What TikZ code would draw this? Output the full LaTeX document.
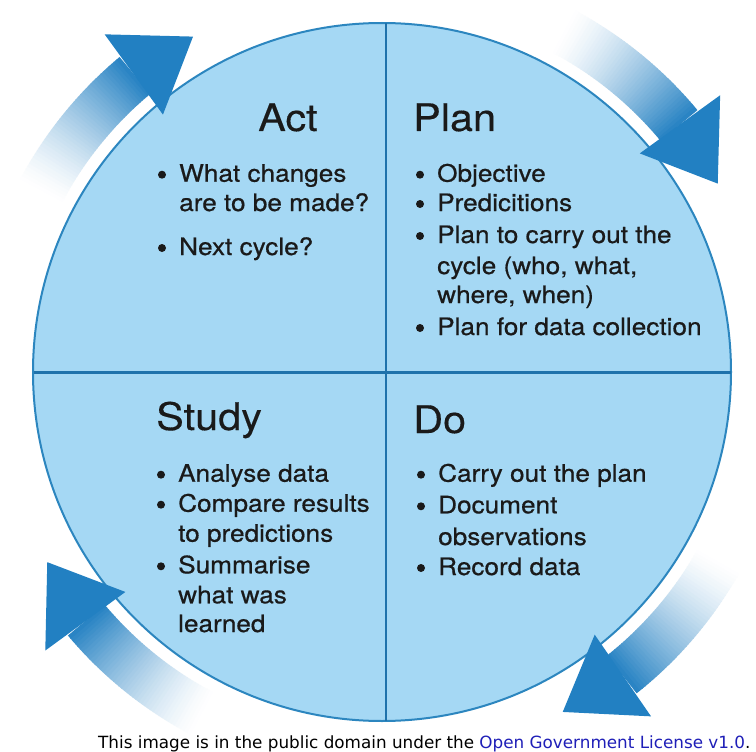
\documentclass[tikz,border=0pt]{standalone}
\usepackage{fontspec}
\setmainfont{TeX Gyre Heros}[FakeStretch=1.09]
\newfontfamily\ttlfont{TeX Gyre Heros}[FakeStretch=1.09, FakeBold=0.3]
\newfontfamily\itmfont{TeX Gyre Heros}[FakeStretch=1.09, FakeBold=0.6]
\newfontfamily\capfont{DejaVu Sans}
\definecolor{circfill}{HTML}{A5D8F4}
\definecolor{circline}{HTML}{2C86BF}
\definecolor{divline}{HTML}{1F72AB}
\definecolor{arrowblue}{HTML}{2A84C4}
\definecolor{headblue}{HTML}{2280C2}
\definecolor{txt}{HTML}{1A1A1A}
\definecolor{linkblue}{HTML}{1F1FB8}
\tikzset{
  ttl/.style={anchor=base west, inner sep=0pt, font=\ttlfont\fontsize{38}{40}\selectfont, text=txt},
  itm/.style={anchor=base west, inner sep=0pt, font=\itmfont\fontsize{24}{28}\selectfont, text=txt},
  bul/.style={circle, fill=txt, inner sep=0pt, minimum size=8pt, yshift=7pt},
  captxt/.style={anchor=base west, inner sep=0pt, font=\capfont\fontsize{16.8}{18}\selectfont, text=black},
}
\newcommand\cyclearrow[1]{%
  \begin{scope}[shift={(382,372)}]
    \foreach \i in {0,...,44} {
      \pgfmathsetmacro\aone{#1+33-\i*0.5}
      \pgfmathsetmacro\atwo{\aone-0.6}
      \pgfmathsetmacro\pct{min(100,(\i/44)^1.4*100)}
      \fill[arrowblue!\pct!white] (\aone:362pt) -- (\aone:410pt)
        arc[start angle=\aone, end angle=\atwo, radius=410pt]
        -- (\atwo:362pt) arc[start angle=\atwo, end angle=\aone, radius=362pt] -- cycle;
    }
    \fill[headblue] (#1+11:338pt) -- (#1:385pt) -- (#1+10:437pt) -- cycle;
  \end{scope}}
\begin{document}
\begin{tikzpicture}[x=1pt,y=-1pt]
  \useasboundingbox[fill=white] (0,0) rectangle (756,752);
  % circle and dividers
  \node[circle, draw=circline, fill=circfill, line width=2pt, minimum size=698pt, inner sep=0pt] (cyc) at (382,372) {};
  \coordinate (vtop) at (386,23.5);
  \coordinate (vbot) at (386,720.5);
  \coordinate (hlft) at (33.5,372.5);
  \coordinate (hrgt) at (730.5,372.5);
  \draw[divline, line width=2.3pt] (vtop) -- (vbot);
  \draw[divline, line width=2.3pt] (hlft) -- (hrgt);
  % arrows
  \cyclearrow{29.3}
  \cyclearrow{119.4}
  \cyclearrow{209.6}
  \cyclearrow{298}
  % Act
  \node[ttl] (act) at (258,131) {Act};
  \node[bul] (ab1) at (162,181.7) {};
  \node[itm] (a1) at (179,181.7) {What changes};
  \node[itm] (a2) at (179,211) {are to be made?};
  \node[bul] (ab2) at (162,255) {};
  \node[itm] (a3) at (179,255) {Next cycle?};
  % Plan
  \node[ttl] (plan) at (413,131) {Plan};
  \node[bul] (pb1) at (420,181.7) {};
  \node[itm] (p1) at (437,181.7) {Objective};
  \node[bul] (pb2) at (420,211) {};
  \node[itm] (p2) at (437,211) {Predicitions};
  \node[bul] (pb3) at (420,243) {};
  \node[itm] (p3) at (437,243) {Plan to carry out the};
  \node[itm] (p4) at (437,274) {cycle (who, what,};
  \node[itm] (p5) at (437,303) {where, when)};
  \node[bul] (pb4) at (420,335) {};
  \node[itm] (p6) at (437,335) {Plan for data collection};
  % Study
  \node[ttl] (study) at (156,430) {Study};
  \node[bul] (sb1) at (161,481.7) {};
  \node[itm] (s1) at (178,481.7) {Analyse data};
  \node[bul] (sb2) at (161,511.7) {};
  \node[itm] (s2) at (178,511.7) {Compare results};
  \node[itm] (s3) at (178,541.7) {to predictions};
  \node[bul] (sb3) at (161,573.3) {};
  \node[itm] (s4) at (178,573.3) {Summarise};
  \node[itm] (s5) at (178,603.3) {what was};
  \node[itm] (s6) at (178,632) {learned};
  % Do
  \node[ttl] (do) at (413,433) {Do};
  \node[bul] (db1) at (421,481.7) {};
  \node[itm] (d1) at (438,481.7) {Carry out the plan};
  \node[bul] (db2) at (421,513.3) {};
  \node[itm] (d2) at (438,513.3) {Document};
  \node[itm] (d3) at (438,545) {observations};
  \node[bul] (db3) at (421,575) {};
  \node[itm] (d4) at (438,575) {Record data};
  % caption
  \node[captxt] (cap) at (98,748) {This image is in the public domain under the \textcolor{linkblue}{Open Government License v1.0}.};
\end{tikzpicture}
\end{document}
